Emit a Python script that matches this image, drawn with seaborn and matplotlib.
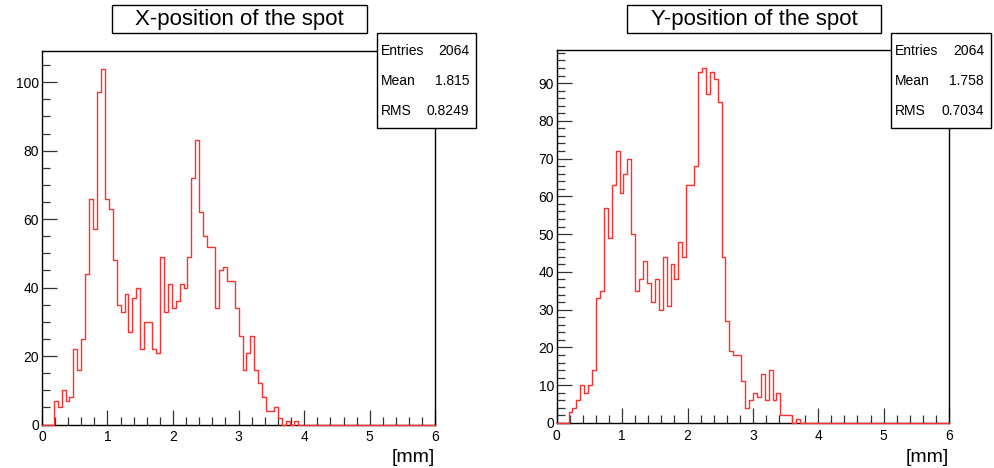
import numpy as np
import pandas as pd
import matplotlib
matplotlib.use("Agg")
import matplotlib.pyplot as plt
from matplotlib.patches import Rectangle
from matplotlib.ticker import MultipleLocator
import seaborn as sns

# ---------------- data ----------------
x_min, x_max, n_bins = 0.0, 6.0, 100
lead_zero_bins = 3  # first non-empty bin starts at 0.18 mm

x_counts = [7, 5, 10, 7, 8, 22, 16, 25, 44, 66,
            57, 97, 104, 66, 63, 48, 35, 33, 38, 27,
            37, 40, 22, 30, 30, 22, 21, 49, 33, 41,
            34, 36, 41, 40, 49, 72, 83, 62, 55, 52,
            52, 34, 45, 46, 42, 42, 34, 26, 16, 21,
            26, 16, 12, 8, 4, 4, 5, 2, 0, 1, 0, 1]
y_counts = [3, 4, 6, 10, 8, 10, 14, 33, 35, 57,
            49, 63, 72, 61, 66, 70, 50, 35, 38, 43,
            37, 32, 38, 30, 44, 31, 42, 38, 48, 44,
            63, 63, 68, 93, 94, 87, 93, 91, 85, 44,
            27, 19, 18, 18, 11, 4, 6, 8, 7, 13,
            6, 14, 6, 8, 2, 2, 2, 0, 1]

titles = ["X-position of the spot", "Y-position of the spot"]
stat_names = ["Entries", "Mean", "RMS"]
x_stats = ["2064", "1.815", "0.8249"]
y_stats = ["2064", "1.758", "0.7034"]
x_unit = "[mm]"

# ---------------- style ----------------
sns.set_theme(style="white")
plt.rcParams["font.family"] = ["Liberation Sans", "DejaVu Sans"]

W, H = 994, 468
fig = plt.figure(figsize=(W / 100, H / 100), dpi=100)


def rect(l, r, t, b):
    return [l / W, 1 - b / H, (r - l) / W, (b - t) / H]


def fx(px):
    return px / W


def fy(py):
    return 1 - py / H


edges = np.linspace(x_min, x_max, n_bins + 1)
centers = (edges[:-1] + edges[1:]) / 2


def full_counts(c):
    arr = np.zeros(n_bins)
    arr[lead_zero_bins:lead_zero_bins + len(c)] = c
    return arr


panels = [
    dict(counts=x_counts, stats=x_stats, title=titles[0],
         box=(41.9, 435.3, 50.7, 424.5), ymaj=20, ymin=5,
         tbox=(111.6, 366.5, 5, 33.3), sbox=(376.7, 475.6, 33.3, 127.7)),
    dict(counts=y_counts, stats=y_stats, title=titles[1],
         box=(556.8, 949, 50.2, 423), ymaj=10, ymin=2,
         tbox=(626.5, 881.4, 5, 33.3), sbox=(891, 990.5, 33.3, 127.7)),
]

for p in panels:
    l, r, t, b = p["box"]
    ax = fig.add_axes(rect(l, r, t, b))
    df = pd.DataFrame({"pos": centers, "count": full_counts(p["counts"])})
    sns.histplot(data=df, x="pos", weights="count", bins=edges.tolist(),
                 element="step", fill=False, color="#ff3030", linewidth=1.0, ax=ax)
    for ln in ax.lines:
        ln.set_zorder(3)
        ln.set_clip_on(False)
    ax.set_xlim(x_min, x_max)
    ax.set_ylim(0, 1.05 * max(p["counts"]))
    ax.set_xlabel("")
    ax.set_ylabel("")
    for s in ax.spines.values():
        s.set_color("black")
        s.set_linewidth(1.0)
    ax.xaxis.set_major_locator(MultipleLocator(1))
    ax.xaxis.set_minor_locator(MultipleLocator(0.2))
    ax.yaxis.set_major_locator(MultipleLocator(p["ymaj"]))
    ax.yaxis.set_minor_locator(MultipleLocator(p["ymin"]))
    ax.tick_params(which="both", direction="in", top=False, right=False,
                   bottom=True, left=True, color="#333333", width=0.9)
    ax.tick_params(which="major", length=11, labelsize=10, labelcolor="black")
    ax.tick_params(which="minor", length=5.5)
    ax.tick_params(axis="x", which="major", pad=4)
    ax.tick_params(axis="y", which="major", pad=2)

    # unit label
    fig.text(fx(r), fy(457), x_unit, ha="right", va="center", fontsize=14,
             color="black")

    # title box
    tl, tr, tt, tb = p["tbox"]
    fig.patches.append(Rectangle((fx(tl), fy(tb)), fx(tr) - fx(tl), fy(tt) - fy(tb),
                                 transform=fig.transFigure, facecolor="white",
                                 edgecolor="black", linewidth=1.0, zorder=5))
    fig.text(fx((tl + tr) / 2), fy((tt + tb) / 2), p["title"], ha="center",
             va="center", fontsize=16, color="black", zorder=6)

    # stats box
    sl, sr, st, sb = p["sbox"]
    fig.patches.append(Rectangle((fx(sl), fy(sb)), fx(sr) - fx(sl), fy(st) - fy(sb),
                                 transform=fig.transFigure, facecolor="white",
                                 edgecolor="black", linewidth=1.0, zorder=5))
    for i, (name, val) in enumerate(zip(stat_names, p["stats"])):
        yy = 51 + 30 * i
        fig.text(fx(sl + 4), fy(yy), name, ha="left", va="center",
                 fontsize=10, color="black", zorder=6)
        fig.text(fx(sr - 6.5), fy(yy), val, ha="right", va="center",
                 fontsize=10, color="black", zorder=6)

fig.savefig("out.png", dpi=100, facecolor="white")
